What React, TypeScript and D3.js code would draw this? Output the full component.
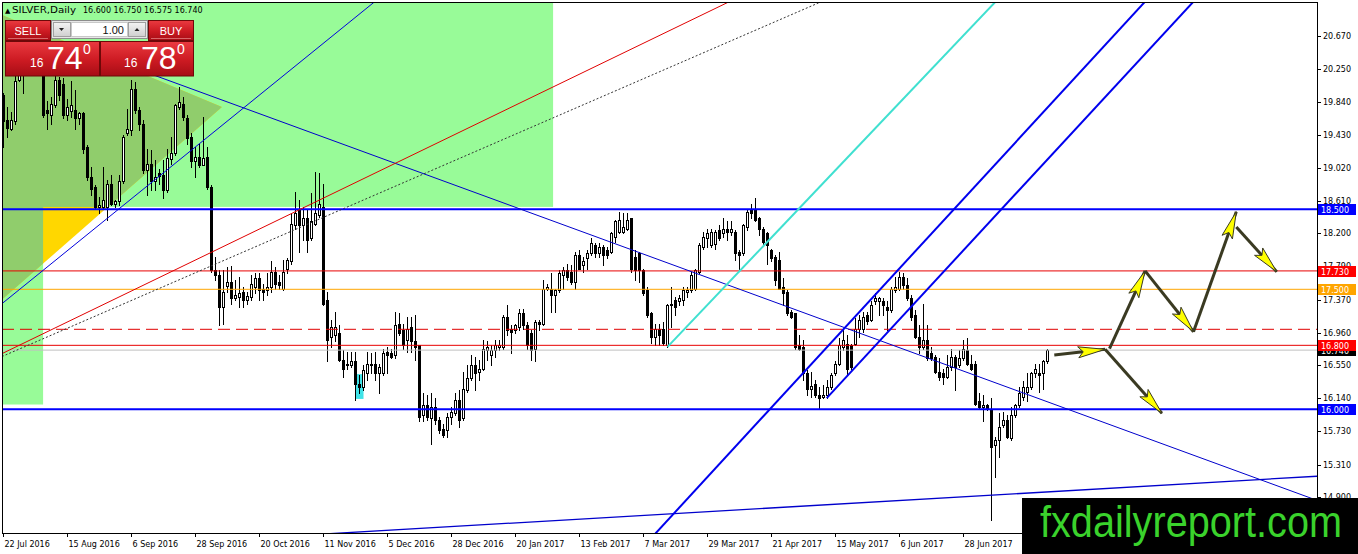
import * as d3 from "d3";

const W = 1358;
const H = 554;
const plot = { left: 2, right: 1317, top: 2.7, bottom: 533 };

// daily bars [open, high, low, close]
const barsJulSep2016: number[][] = [
  [19.93, 19.95, 19.28, 19.6], [19.62, 19.78, 19.41, 19.52], [19.5, 19.72, 19.49, 19.62], [19.6, 20.17, 19.57, 20.1],
  [20.12, 20.45, 20.1, 20.35], [20.35, 20.5, 19.95, 20.3], [20.3, 20.55, 20.2, 20.45], [20.45, 20.7, 20.35, 20.6],
  [20.6, 20.75, 20.3, 20.4], [20.4, 20.55, 20.2, 20.3], [20.25, 20.4, 19.65, 19.68], [19.74, 19.86, 19.51, 19.7],
  [19.68, 19.91, 19.57, 19.82], [19.8, 20.17, 19.78, 20.12], [20.12, 20.16, 19.87, 19.93], [20.07, 20.14, 19.64, 19.68],
  [19.68, 19.88, 19.62, 19.78], [19.73, 20.1, 19.66, 19.8], [19.74, 19.99, 19.51, 19.64], [19.64, 19.72, 19.57, 19.7],
  [19.7, 19.72, 19.2, 19.26], [19.28, 19.3, 18.87, 18.91], [18.91, 19.03, 18.68, 18.76], [18.78, 18.8, 18.51, 18.53],
  [18.53, 18.66, 18.45, 18.56], [18.53, 19.03, 18.51, 18.62], [18.53, 18.87, 18.37, 18.82], [18.82, 18.93, 18.55, 18.57],
  [18.57, 18.62, 18.53, 18.6], [18.6, 18.93, 18.55, 18.85], [18.85, 19.43, 18.83, 19.41], [19.45, 19.76, 19.43, 19.5],
  [19.49, 20.12, 19.43, 20.01], [20.01, 20.09, 19.7, 19.74], [19.74, 19.78, 19.49, 19.57], [19.57, 19.62, 18.95, 18.99],
  [18.99, 19.26, 18.68, 19.07], [19.07, 19.24, 18.74, 18.85], [18.85, 19.12, 18.74, 18.91], [18.95, 19.01, 18.82, 18.92],
  [18.93, 19.12, 18.64, 18.74], [18.74, 19.26, 18.72, 19.14], [19.13, 19.41, 19.07, 19.2], [19.2, 19.82, 19.18, 19.8],
  [19.78, 20.03, 19.76, 19.84], [19.82, 19.91, 19.62, 19.66], [19.64, 19.68, 19.32, 19.39], [19.41, 19.45, 19.03, 19.1],
  [19.1, 19.28, 18.91, 19.16], [19.16, 19.32, 19.03, 19.05], [19.05, 19.66, 19.05, 19.14], [19.16, 19.28, 18.76, 18.78],
];

const barsOctJan: number[][] = [
  [18.78, 18.8, 17.72, 17.74], [17.74, 17.9, 17.62, 17.68], [17.68, 17.74, 17.05, 17.28], [17.28, 17.74, 17.07, 17.47],
  [17.54, 17.78, 17.47, 17.59], [17.59, 17.79, 17.32, 17.39], [17.39, 17.62, 17.37, 17.43], [17.41, 17.66, 17.28, 17.45],
  [17.47, 17.53, 17.28, 17.37], [17.37, 17.47, 17.32, 17.42], [17.41, 17.68, 17.37, 17.57], [17.53, 17.7, 17.45, 17.64],
  [17.64, 17.7, 17.37, 17.49], [17.51, 17.57, 17.37, 17.47], [17.49, 17.7, 17.43, 17.53], [17.53, 17.85, 17.47, 17.72],
  [17.72, 17.78, 17.51, 17.57], [17.59, 17.68, 17.51, 17.55], [17.51, 17.87, 17.49, 17.72], [17.76, 17.89, 17.7, 17.87],
  [17.85, 18.45, 17.82, 18.32], [18.3, 18.72, 18.26, 18.45], [18.49, 18.62, 17.97, 18.3], [18.3, 18.53, 18.12, 18.39],
  [18.39, 18.49, 17.97, 18.12], [18.14, 18.7, 18.12, 18.35], [18.32, 18.97, 18.3, 18.45], [18.43, 18.95, 18.41, 18.57],
  [18.53, 18.82, 17.3, 17.32], [17.37, 17.47, 16.6, 16.87], [16.91, 17.12, 16.78, 17.03], [16.93, 17.22, 16.85, 17.03],
  [16.95, 17.05, 16.6, 16.62], [16.62, 16.74, 16.41, 16.51], [16.57, 16.72, 16.51, 16.55], [16.55, 16.72, 16.53, 16.6],
  [16.6, 16.72, 16.12, 16.32], [16.32, 16.43, 16.2, 16.28], [16.28, 16.55, 16.24, 16.49], [16.45, 16.72, 16.37, 16.57],
  [16.57, 16.7, 16.45, 16.55], [16.57, 16.72, 16.37, 16.45], [16.45, 16.57, 16.2, 16.53], [16.45, 16.76, 16.43, 16.7],
  [16.72, 16.78, 16.45, 16.68], [16.7, 16.76, 16.64, 16.66], [16.68, 17.22, 16.64, 17.05], [17.07, 17.2, 16.93, 16.95],
  [16.99, 17.07, 16.76, 16.8], [16.87, 17.16, 16.72, 17.01], [17.03, 17.16, 16.72, 16.85], [16.85, 17.18, 16.62, 16.78],
  [16.8, 16.8, 15.85, 15.91], [15.93, 16.2, 15.85, 16.05], [16.05, 16.18, 15.87, 15.91], [15.89, 16.2, 15.57, 16.03],
  [16.03, 16.14, 15.82, 15.87], [15.87, 15.91, 15.7, 15.74], [15.76, 15.82, 15.65, 15.68], [15.74, 15.95, 15.66, 15.91],
  [15.91, 16.03, 15.82, 15.97], [15.95, 16.2, 15.93, 16.12], [16.12, 16.24, 15.78, 15.87], [15.89, 16.47, 15.87, 16.26],
  [16.24, 16.55, 16.22, 16.39], [16.39, 16.68, 16.37, 16.55], [16.55, 16.66, 16.24, 16.45], [16.47, 16.62, 16.37, 16.51],
  [16.51, 16.87, 16.49, 16.76], [16.74, 16.85, 16.62, 16.78], [16.68, 16.8, 16.55, 16.74], [16.74, 16.87, 16.66, 16.8],
];

const barsJanApr2017: number[][] = [
  [16.78, 16.87, 16.74, 16.8], [16.78, 17.18, 16.76, 17.16], [17.16, 17.3, 16.93, 16.99], [17.01, 17.05, 16.7, 16.97],
  [16.99, 17.07, 16.95, 17.05], [17.03, 17.26, 16.99, 17.2], [17.2, 17.26, 17.01, 17.05], [17.05, 17.09, 16.76, 16.8],
  [16.95, 16.99, 16.62, 16.74], [16.76, 17.12, 16.6, 17.09], [17.09, 17.12, 16.99, 17.07], [17.07, 17.62, 17.05, 17.51],
  [17.51, 17.57, 17.49, 17.53], [17.51, 17.7, 17.22, 17.43], [17.43, 17.51, 17.22, 17.49], [17.49, 17.74, 17.47, 17.7],
  [17.68, 17.78, 17.51, 17.74], [17.74, 17.82, 17.62, 17.66], [17.72, 17.8, 17.57, 17.59], [17.59, 17.97, 17.51, 17.93],
  [17.93, 17.99, 17.76, 17.76], [17.8, 17.91, 17.72, 17.85], [17.89, 17.99, 17.76, 17.95], [17.95, 18.14, 17.93, 18.08],
  [18.05, 18.08, 17.91, 17.95], [17.95, 18.08, 17.91, 18.03], [18.03, 18.05, 17.8, 17.93], [17.99, 18.03, 17.89, 17.93],
  [17.97, 18.22, 17.95, 18.2], [18.16, 18.37, 18.09, 18.35], [18.22, 18.47, 18.2, 18.37], [18.22, 18.45, 18.2, 18.28],
  [18.26, 18.45, 18.24, 18.37], [18.39, 18.39, 17.72, 17.76], [17.91, 17.99, 17.62, 17.74], [17.95, 17.97, 17.59, 17.74],
  [17.74, 17.76, 17.43, 17.45], [17.49, 17.53, 17.16, 17.18], [17.2, 17.22, 16.83, 16.91], [16.91, 17.07, 16.8, 17.01],
  [17.01, 17.07, 16.8, 16.93], [17.01, 17.09, 16.8, 16.83], [16.8, 17.32, 16.78, 17.3], [17.3, 17.53, 17.03, 17.32],
  [17.37, 17.41, 17.18, 17.28], [17.35, 17.43, 17.3, 17.39], [17.37, 17.53, 17.3, 17.49], [17.47, 17.53, 17.41, 17.49],
  [17.49, 17.72, 17.47, 17.68], [17.51, 17.76, 17.49, 17.74], [17.72, 18.08, 17.7, 18.05], [18.03, 18.22, 18.01, 18.16],
  [18.14, 18.26, 18.03, 18.2], [18.05, 18.26, 18.03, 18.22], [18.07, 18.24, 18.01, 18.22], [18.24, 18.3, 18.12, 18.14],
  [18.2, 18.39, 18.16, 18.26], [18.26, 18.35, 18.12, 18.22], [18.22, 18.35, 18.18, 18.26], [18.22, 18.24, 17.87, 17.95],
  [17.97, 17.99, 17.74, 17.93], [17.95, 18.32, 17.93, 18.3], [18.28, 18.51, 18.24, 18.47], [18.49, 18.57, 18.39, 18.45],
  [18.49, 18.64, 18.35, 18.37], [18.39, 18.41, 18.18, 18.26], [18.26, 18.28, 18.05, 18.09], [18.2, 18.22, 17.82, 18.05],
  [17.99, 18.01, 17.85, 17.89], [17.91, 17.93, 17.55, 17.62], [17.87, 17.97, 17.51, 17.51],
];

const barsAprJul2017: number[][] = [
  [17.53, 17.64, 17.3, 17.45], [17.47, 17.49, 17.18, 17.2], [17.22, 17.24, 17.14, 17.16], [17.2, 17.2, 16.76, 16.78],
  [16.8, 16.93, 16.74, 16.76], [16.78, 16.87, 16.37, 16.45], [16.45, 16.49, 16.18, 16.26], [16.26, 16.47, 16.16, 16.29],
  [16.32, 16.37, 16.16, 16.18], [16.18, 16.28, 16.01, 16.14], [16.16, 16.3, 16.14, 16.18], [16.18, 16.37, 16.14, 16.28],
  [16.28, 16.45, 16.26, 16.43], [16.45, 16.6, 16.43, 16.57], [16.57, 16.89, 16.55, 16.8], [16.78, 17.01, 16.74, 16.87],
  [16.82, 16.93, 16.43, 16.51], [16.8, 16.82, 16.51, 16.53], [16.82, 17.14, 16.8, 17.01], [17.01, 17.18, 16.91, 17.12],
  [17.01, 17.22, 16.97, 17.16], [17.18, 17.22, 17.07, 17.1], [17.12, 17.35, 17.1, 17.3], [17.35, 17.45, 17.32, 17.39],
  [17.35, 17.41, 17.18, 17.39], [17.35, 17.39, 17.18, 17.3], [17.28, 17.35, 16.99, 17.24], [17.24, 17.53, 17.22, 17.51],
  [17.49, 17.66, 17.47, 17.53], [17.51, 17.72, 17.49, 17.66], [17.66, 17.7, 17.51, 17.55], [17.55, 17.64, 17.37, 17.39],
  [17.39, 17.43, 17.12, 17.16], [17.18, 17.24, 16.89, 16.91], [16.91, 17.05, 16.7, 16.78], [16.78, 17.32, 16.76, 16.87],
  [16.87, 17.05, 16.62, 16.64], [16.7, 16.78, 16.62, 16.64], [16.66, 16.68, 16.45, 16.47], [16.47, 16.64, 16.37, 16.41],
  [16.45, 16.51, 16.32, 16.41], [16.41, 16.68, 16.39, 16.53], [16.53, 16.76, 16.49, 16.66], [16.66, 16.68, 16.24, 16.53],
  [16.55, 16.74, 16.53, 16.64], [16.64, 16.87, 16.62, 16.76], [16.74, 16.89, 16.55, 16.57], [16.57, 16.68, 16.49, 16.51],
  [16.57, 16.6, 16.05, 16.07], [16.1, 16.2, 16.01, 16.03], [16.03, 16.18, 15.85, 16.05], [16.05, 16.07, 15.99, 16.01],
  [16.01, 16.14, 14.62, 15.53], [15.55, 15.66, 15.16, 15.62], [15.62, 15.95, 15.41, 15.78], [15.8, 15.97, 15.78, 15.87],
  [15.87, 15.93, 15.64, 15.66], [15.64, 16.03, 15.62, 15.93], [15.93, 16.07, 15.91, 16.05], [16.05, 16.28, 16.03, 16.2],
  [16.16, 16.35, 16.12, 16.28], [16.22, 16.45, 16.1, 16.28], [16.28, 16.47, 16.26, 16.45], [16.45, 16.57, 16.41, 16.51],
  [16.45, 16.57, 16.22, 16.43], [16.45, 16.62, 16.26, 16.6], [16.6, 16.75, 16.575, 16.74],
];

const candles = [...barsJulSep2016, ...barsOctJan, ...barsJanApr2017, ...barsAprJul2017];

// the feed has a bar for every weekday except these
const missingDays = ["2016-12-26", "2017-01-02", "2017-04-14"];
const firstDay = new Date(2016, 6, 22);
const lastLabelledBar = 240; // later labels sit under the watermark

const priceTicks = [20.67, 20.25, 19.84, 19.43, 19.02, 18.61, 18.2, 17.79, 17.37, 16.96, 16.55, 16.14, 15.73, 15.31, 14.9];

// horizontal levels
const blueLevels = [18.5, 16.0];
const redLevels = [17.73, 16.8];
const orangeLevel = 17.5;
const dashedLevel = 17.0;
const bid = 16.74;
const ask = 16.78;
const title = "16.600 16.750 16.575 16.740";

// drawn objects, anchored at [bar, price]
const greenZone = [[-1, 21.5], [137.4, 18.53]];
const greenStrip = [[-1, 21.5], [9.9, 16.06]];
const triangle = [[-0.4, 20.93], [54.6, 19.78], [-0.4, 17.37]];
const cyanBox = [[88, 16.44], [90, 16.13]];
const thinUp = [[-0.4, 17.32], [74.9, 20.37]];
const thinDown = [[39.1, 20.15], [324.1, 14.94]];
const thinBottom = [[84.4, 14.454], [325.1, 15.154]];
const redTrend = [[6.6, 16.865], [84.1, 18.74]];
const dottedTrend = [[9.1, 16.865], [66.6, 18.11]];
const cyanTrend = [[166, 16.78], [196.6, 18.39]];
const channelA = [[163.1, 14.454], [285.1, 21.08]];
const channelB = [[205.8, 16.14], [297.2, 21.08]];
const forecast = [
  [[262.7, 16.68], [275.4, 16.75]],
  [[276.5, 16.76], [285.4, 17.73]],
  [[285.4, 17.73], [297.5, 16.97]],
  [[297.5, 16.97], [308.2, 18.47]],
  [[308.2, 18.28], [318.3, 17.72]],
  [[275.4, 16.75], [289.6, 15.95]],
];

function tradingDays(n: number) {
  const out: Date[] = [];
  const fmt = d3.timeFormat("%Y-%m-%d");
  let d = firstDay;
  while (out.length < n) {
    const wd = d.getDay();
    if (wd !== 0 && wd !== 6 && !missingDays.includes(fmt(d))) out.push(d);
    d = d3.timeDay.offset(d, 1);
  }
  return out;
}

export default function App() {
  const dates = tradingDays(candles.length);
  const x = d3.scaleLinear().domain([0, candles.length - 1]).range([3.5, 3.5 + 4 * (candles.length - 1)]);
  const y = d3.scaleLinear().domain([14.454, 21.0825]).range([plot.bottom, plot.top]);
  const fmtDate = d3.timeFormat("%-d %b %Y");
  const fmtPrice = d3.format(".3f");

  const pt = (p: number[]) => [x(p[0]), y(p[1])];
  const lineAt = (a: number[], b: number[], b0: number, b1: number) => {
    const k = (b[1] - a[1]) / (b[0] - a[0]);
    return [x(b0), y(a[1] + k * (b0 - a[0])), x(b1), y(a[1] + k * (b1 - a[0]))];
  };
  const seg = (a: number[], b: number[], b0: number, b1: number, props: any) => {
    const [x1, y1, x2, y2] = lineAt(a, b, b0, b1);
    return <line x1={x1} y1={y1} x2={x2} y2={y2} {...props} />;
  };
  const rectOf = (r: number[][]) => {
    const [x0, y0] = pt(r[0]);
    const [x1, y1] = pt(r[1]);
    return { x: Math.min(x0, x1), y: Math.min(y0, y1), width: Math.abs(x1 - x0), height: Math.abs(y1 - y0) };
  };
  const triPath = d3.line()(triangle.map((p) => pt(p) as [number, number])) + "Z";

  const arrow = (a: number[], b: number[], i: number) => {
    const [x1, y1] = pt(a);
    const [x2, y2] = pt(b);
    const len = Math.hypot(x2 - x1, y2 - y1);
    const ux = (x2 - x1) / len;
    const uy = (y2 - y1) / len;
    const hl = 27;
    const hw = 5.5;
    const bx = x2 - ux * hl;
    const by = y2 - uy * hl;
    const head = `M${x2},${y2}L${bx - uy * hw},${by + ux * hw}L${bx + ux * 5},${by + uy * 5}L${bx + uy * hw},${by - ux * hw}Z`;
    return (
      <g key={i}>
        <line x1={x1} y1={y1} x2={x2} y2={y2} stroke="#3a3a22" strokeWidth={3} />
        <path d={head} fill="#ffff00" stroke="#3a3a22" strokeWidth={1} />
      </g>
    );
  };

  const levelBox = (price: number, fill: string, key: string) => (
    <g key={key}>
      <rect x={1318} y={Math.round(y(price)) - 5} width={38} height={11} fill={fill} />
      <text x={1321} y={Math.round(y(price)) + 4} fill="#ffffff" fontSize={8}>
        {fmtPrice(price)}
      </text>
    </g>
  );

  return (
    <svg
      width={W}
      height={H}
      style={{ position: "absolute", left: 0, top: 0, background: "#ffffff" }}
      fontFamily="DejaVu Sans, Verdana, sans-serif"
    >
      <defs>
        <clipPath id="plotClip">
          <rect x={plot.left} y={plot.top} width={plot.right - plot.left} height={plot.bottom - plot.top} />
        </clipPath>
        <clipPath id="greenClip">
          <rect {...rectOf(greenZone)} />
          <rect {...rectOf(greenStrip)} />
        </clipPath>
        <linearGradient id="redGrad" x1="0" y1="0" x2="0" y2="1">
          <stop offset="0" stopColor="#ea3a40" />
          <stop offset="0.55" stopColor="#cc1a22" />
          <stop offset="1" stopColor="#a60d15" />
        </linearGradient>
        <linearGradient id="grayGrad" x1="0" y1="0" x2="0" y2="1">
          <stop offset="0" stopColor="#f4f4f4" />
          <stop offset="1" stopColor="#cfcfcf" />
        </linearGradient>
      </defs>

      <g clipPath="url(#plotClip)">
        {/* filled objects */}
        <rect {...rectOf(greenZone)} fill="#98fb98" />
        <rect {...rectOf(greenStrip)} fill="#98fb98" />
        <path d={triPath} fill="#ffd700" />
        <path d={triPath} fill="#90cd6c" clipPath="url(#greenClip)" />
        <rect {...rectOf(cyanBox)} fill="#3fe3e8" />

        {/* candles */}
        <g shapeRendering="crispEdges">
          {candles.map((c, i) => {
            const [o, h, l, cl] = c;
            const cx = x(i);
            const top = Math.round(y(Math.max(o, cl)));
            const bot = Math.round(y(Math.min(o, cl)));
            const up = cl >= o;
            return (
              <g key={i}>
                <line x1={cx} x2={cx} y1={Math.round(y(h))} y2={Math.round(y(l)) + 1} stroke="#000" />
                {up ? (
                  <rect x={cx - 1} y={top + 0.5} width={2} height={Math.max(bot - top, 1)} fill="#fff" stroke="#000" />
                ) : (
                  <rect x={cx - 1.5} y={top} width={3} height={Math.max(bot - top, 1) + 1} fill="#000" />
                )}
              </g>
            );
          })}
        </g>

        {/* horizontal levels */}
        <line x1={plot.left} x2={plot.right} y1={y(bid)} y2={y(bid)} stroke="#c0c0c0" />
        <line x1={plot.left} x2={plot.right} y1={y(dashedLevel)} y2={y(dashedLevel)} stroke="#e00000" strokeDasharray="12,6" />
        <line x1={plot.left} x2={plot.right} y1={y(orangeLevel)} y2={y(orangeLevel)} stroke="#ffa500" />
        {redLevels.map((p) => (
          <line key={p} x1={plot.left} x2={plot.right} y1={y(p)} y2={y(p)} stroke="#e80000" />
        ))}
        {blueLevels.map((p) => (
          <line key={p} x1={plot.left} x2={plot.right} y1={y(p)} y2={y(p)} stroke="#0000ff" strokeWidth={2} />
        ))}

        {/* trend lines */}
        {seg(thinUp[0], thinUp[1], -1, 110, { stroke: "#0000dd", strokeWidth: 1 })}
        {seg(thinDown[0], thinDown[1], 28, 340, { stroke: "#0000cc", strokeWidth: 1 })}
        {seg(thinBottom[0], thinBottom[1], 60, 340, { stroke: "#0000cc", strokeWidth: 1.3 })}
        {seg(redTrend[0], redTrend[1], -1, 200, { stroke: "#e00000", strokeWidth: 1 })}
        {seg(dottedTrend[0], dottedTrend[1], -0.4, 230, { stroke: "#333", strokeWidth: 1, strokeDasharray: "2,2" })}
        {seg(cyanTrend[0], cyanTrend[1], 166, 260, { stroke: "#40e0d0", strokeWidth: 2 })}
        {seg(channelA[0], channelA[1], 150, 300, { stroke: "#0000ee", strokeWidth: 2 })}
        {seg(channelB[0], channelB[1], channelB[0][0], 310, { stroke: "#0000ee", strokeWidth: 2 })}

        {forecast.map((f, i) => arrow(f[0], f[1], i))}
      </g>

      {/* frame */}
      <rect x={2.5} y={2.5} width={plot.right - 2.5} height={plot.bottom - 2.5} fill="none" stroke="#000" shapeRendering="crispEdges" />

      {/* price axis */}
      <g fontSize={8} fill="#000">
        {priceTicks.map((p) => (
          <g key={p}>
            <line x1={plot.right} x2={plot.right + 4} y1={Math.round(y(p)) + 0.5} y2={Math.round(y(p)) + 0.5} stroke="#000" />
            <text x={1323} y={y(p) + 3}>{fmtPrice(p)}</text>
          </g>
        ))}
      </g>
      {levelBox(blueLevels[0], "#0000ff", "b0")}
      {levelBox(redLevels[0], "#ff0000", "r0")}
      {levelBox(orangeLevel, "#ffa500", "o")}
      {levelBox(bid, "#000000", "bid")}
      {levelBox(redLevels[1], "#ff0000", "r1")}
      {levelBox(blueLevels[1], "#0000ff", "b1")}

      {/* time axis */}
      <g fontSize={8} fill="#000">
        {dates.map((d, i) =>
          i % 16 === 0 && i <= lastLabelledBar ? (
            <g key={i}>
              <line x1={x(i)} x2={x(i)} y1={plot.bottom} y2={plot.bottom + 4} stroke="#000" />
              <text x={x(i) + 1} y={547}>{fmtDate(d)}</text>
            </g>
          ) : null
        )}
      </g>

      {/* title */}
      <g fontSize={8} fill="#000">
        <text x={5} y={13} fontSize={7}>▲</text>
        <text x={12} y={13} fontSize={9} textLength={64} lengthAdjust="spacingAndGlyphs">SILVER,Daily</text>
        <text x={83} y={13}>{title}</text>
      </g>

      {/* one click trading panel */}
      <g fontFamily="Liberation Sans, Arial, sans-serif" fill="#fff">
        <rect x={5.5} y={20.5} width={45} height={20} fill="url(#redGrad)" stroke="#6e0808" />
        <line x1={8} x2={48} y1={38.5} y2={38.5} stroke="#f4a0a0" strokeOpacity={0.6} />
        <text x={28} y={35} fontSize={11} textAnchor="middle">SELL</text>
        <rect x={51.5} y={20.5} width={96} height={18} fill="#e6e6e6" stroke="#8c8c8c" />
        <rect x={53.5} y={22.5} width={17} height={14} fill="url(#grayGrad)" stroke="#a0a0a0" />
        <path d="M59,28L64,28L61.5,31Z" fill="#222" />
        <rect x={71.5} y={22.5} width={56} height={14} fill="#fff" stroke="#c8c8c8" />
        <text x={124} y={34} fontSize={11} textAnchor="end" fill="#111">1.00</text>
        <rect x={128.5} y={22.5} width={17} height={14} fill="url(#grayGrad)" stroke="#a0a0a0" />
        <path d="M134.5,31L139.5,31L137,28Z" fill="#222" />
        <rect x={148.5} y={20.5} width={45} height={20} fill="url(#redGrad)" stroke="#6e0808" />
        <line x1={151} x2={191} y1={38.5} y2={38.5} stroke="#f4a0a0" strokeOpacity={0.6} />
        <text x={171} y={35} fontSize={11} textAnchor="middle">BUY</text>

        <rect x={5.5} y={41.5} width={94} height={34.5} fill="url(#redGrad)" stroke="#6e0808" />
        <rect x={100.5} y={41.5} width={93} height={34.5} fill="url(#redGrad)" stroke="#6e0808" />
        <text x={30} y={67} fontSize={12}>{Math.floor(bid)}</text>
        <text x={47} y={69} fontSize={32}>{fmtPrice(bid).slice(3, 5)}</text>
        <text x={83} y={54} fontSize={14}>0</text>
        <text x={124} y={67} fontSize={12}>{Math.floor(ask)}</text>
        <text x={141} y={69} fontSize={32}>{fmtPrice(ask).slice(3, 5)}</text>
        <text x={177} y={54} fontSize={14}>0</text>
      </g>

      {/* watermark */}
      <rect x={1022} y={498} width={336} height={56} fill="#000" />
      <text
        x={1040}
        y={537}
        fontFamily="Liberation Sans, Arial, sans-serif"
        fontSize={44}
        fill="#3ad22c"
        textLength={302}
        lengthAdjust="spacingAndGlyphs"
      >
        fxdailyreport.com
      </text>
    </svg>
  );
}
